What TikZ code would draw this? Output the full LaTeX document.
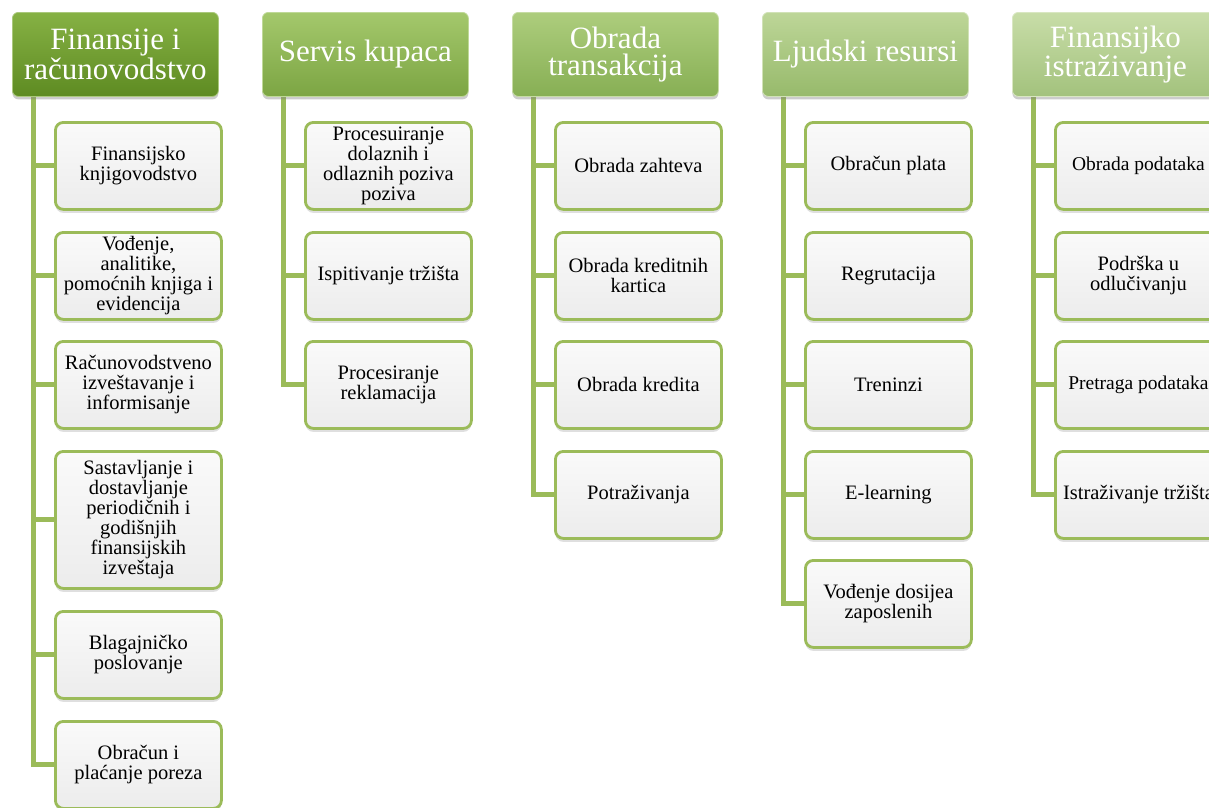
\documentclass[tikz,border=0pt]{standalone}
\usepackage{fontspec}
\setmainfont{Liberation Serif}
\usetikzlibrary{shadows,calc}

\definecolor{branch}{HTML}{9BBB59}
\definecolor{leafTop}{HTML}{FAFAFA}
\definecolor{leafBot}{HTML}{ECECEC}
\definecolor{hAtop}{HTML}{86B144}\definecolor{hAbot}{HTML}{5E8B22}
\definecolor{hBtop}{HTML}{A4C86C}\definecolor{hBbot}{HTML}{7CA543}
\definecolor{hCtop}{HTML}{ADCD7D}\definecolor{hCbot}{HTML}{87AF54}
\definecolor{hDtop}{HTML}{BDD698}\definecolor{hDbot}{HTML}{97BA6B}
\definecolor{hEtop}{HTML}{C8DDA8}\definecolor{hEbot}{HTML}{A3C27D}

\pgfdeclarelayer{bg}
\pgfsetlayers{bg,main}

\tikzset{
  head/.style 2 args={anchor=north west, minimum width=206pt, minimum height=84pt,
    inner sep=0pt, rounded corners=6pt, align=center, text=white,
    top color=#1, bottom color=#2, draw=#1!70!white, line width=0.8pt,
    font=\fontsize{31}{27}\selectfont,
    drop shadow={opacity=.4, shadow xshift=0pt, shadow yshift=-3pt}},
  leaf/.style={anchor=north west, minimum width=166pt, minimum height=87pt,
    inner sep=0pt, rounded corners=8pt, align=center,
    top color=leafTop, bottom color=leafBot, draw=branch, line width=2.8pt,
    font=\fontsize{20.5}{20}\selectfont,
    drop shadow={opacity=.25, shadow xshift=0pt, shadow yshift=-3.5pt}},
  tall/.style={minimum height=137pt},
  snug/.style={font=\fontsize{19.5}{20}\selectfont},
  conn/.style={draw=branch, line width=5pt, line join=miter},
}

\begin{document}
\begin{tikzpicture}[x=1pt, y={(0pt,-1pt)}]
  \path[use as bounding box] (0,0) rectangle (1209,807);
  \clip (0,0) rectangle (1209,807);

  % column headers
  \node[head={hAtop}{hAbot}] (h1) at (12,12)   {Finansije i\\računovodstvo};
  \node[head={hBtop}{hBbot}] (h2) at (262,12)  {Servis kupaca};
  \node[head={hCtop}{hCbot}] (h3) at (512,12)  {Obrada\\transakcija};
  \node[head={hDtop}{hDbot}] (h4) at (762,12)  {Ljudski resursi};
  \node[head={hEtop}{hEbot}] (h5) at (1012,12) {Finansijko\\istraživanje};

  % Finansije i računovodstvo
  \node[leaf] (a1) at (54,121)  {Finansijsko\\knjigovodstvo};
  \node[leaf] (a2) at (54,231)  {Vođenje,\\analitike,\\pomoćnih knjiga i\\evidencija};
  \node[leaf] (a3) at (54,340)  {Računovodstveno\\izveštavanje i\\informisanje};
  \node[leaf,tall] (a4) at (54,450) {Sastavljanje i\\dostavljanje\\periodičnih i\\godišnjih\\finansijskih\\izveštaja};
  \node[leaf] (a5) at (54,610)  {Blagajničko\\poslovanje};
  \node[leaf] (a6) at (54,720)  {Obračun i\\plaćanje poreza};

  % Servis kupaca
  \node[leaf] (b1) at (304,121) {Procesuiranje\\dolaznih i\\odlaznih poziva\\poziva};
  \node[leaf] (b2) at (304,231) {Ispitivanje tržišta};
  \node[leaf] (b3) at (304,340) {Procesiranje\\reklamacija};

  % Obrada transakcija
  \node[leaf] (c1) at (554,121) {Obrada zahteva};
  \node[leaf] (c2) at (554,231) {Obrada kreditnih\\kartica};
  \node[leaf] (c3) at (554,340) {Obrada kredita};
  \node[leaf] (c4) at (554,450) {Potraživanja};

  % Ljudski resursi
  \node[leaf] (d1) at (804,121) {Obračun plata};
  \node[leaf] (d2) at (804,231) {Regrutacija};
  \node[leaf] (d3) at (804,340) {Treninzi};
  \node[leaf] (d4) at (804,450) {E-learning};
  \node[leaf] (d5) at (804,559) {Vođenje dosijea\\zaposlenih};

  % Finansijko istraživanje
  \node[leaf,snug] (e1) at (1054,121) {Obrada podataka};
  \node[leaf] (e2) at (1054,231) {Podrška u\\odlučivanju};
  \node[leaf,snug] (e3) at (1054,340) {Pretraga podataka};
  \node[leaf] (e4) at (1054,450) {Istraživanje tržišta};

  % branch lines behind the boxes
  \begin{pgfonlayer}{bg}
    \foreach \h/\list in {h1/{a1,a2,a3,a4,a5,a6}, h2/{b1,b2,b3},
                          h3/{c1,c2,c3,c4}, h4/{d1,d2,d3,d4,d5},
                          h5/{e1,e2,e3,e4}} {
      \foreach \c in \list {
        \draw[conn] ($(\h.south west)+(21.5,-4)$) |- (\c.west);
      }
    }
  \end{pgfonlayer}
\end{tikzpicture}
\end{document}
